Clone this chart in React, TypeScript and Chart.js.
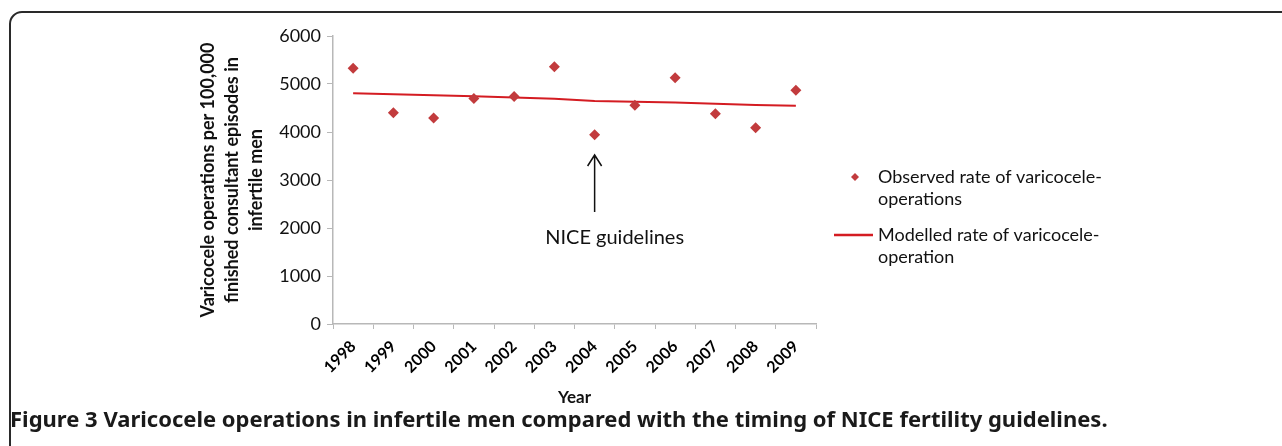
import React, { useEffect, useRef } from "react";
import { Chart, registerables } from "chart.js";

Chart.register(...registerables);

const years = ["1998", "1999", "2000", "2001", "2002", "2003", "2004", "2005", "2006", "2007", "2008", "2009"];
const observedRate = [5330, 4400, 4290, 4700, 4740, 5360, 3945, 4555, 5130, 4380, 4090, 4870];
const modelledRate = [4805, 4785, 4765, 4745, 4718, 4695, 4648, 4628, 4612, 4588, 4562, 4548];
const yTicks = [0, 1000, 2000, 3000, 4000, 5000, 6000];
const yTitleLines = ["Varicocele operations per 100,000", "finished consultant episodes in", "infertile men"];
const xTitle = "Year";
const legendObserved = ["Observed rate of varicocele-", "operations"];
const legendModelled = ["Modelled rate of varicocele-", "operation"];
const annotationYear = "2004";
const annotationText = "NICE guidelines";
const captionBold = "Figure 3";
const captionRest = " Varicocele operations in infertile men compared with the timing of NICE fertility guidelines.";

const POINT_COLOR = "#c23b3d";
const LINE_COLOR = "#d41c22";
const AXIS_COLOR = "#b8b8b8";
const FONT = "Lato, 'Open Sans', sans-serif";

const overlay = {
  id: "overlay",
  afterDraw(chart: any) {
    const ctx = chart.ctx as CanvasRenderingContext2D;
    const x = chart.scales.x;
    ctx.save();
    // frame
    ctx.strokeStyle = "#2a2a2a";
    ctx.lineWidth = 2;
    ctx.beginPath();
    const r = 12;
    ctx.moveTo(10, 446);
    ctx.lineTo(10, 12 + r);
    ctx.arcTo(10, 12, 10 + r, 12, r);
    ctx.lineTo(1282, 12);
    ctx.stroke();

    // y title
    ctx.fillStyle = "#111";
    ctx.font = `bold 18px ${FONT}`;
    ctx.textAlign = "center";
    ctx.textBaseline = "middle";
    const cy = 180;
    yTitleLines.forEach((line, i) => {
      ctx.save();
      ctx.translate(208 + i * 24, cy);
      ctx.rotate(-Math.PI / 2);
      ctx.fillText(line, 0, 0);
      ctx.restore();
    });

    // x title
    ctx.font = `bold 17px ${FONT}`;
    ctx.fillText(xTitle, (chart.chartArea.left + chart.chartArea.right) / 2, 398);

    // legend
    ctx.textAlign = "left";
    ctx.font = `18px ${FONT}`;
    ctx.fillStyle = "#111";
    ctx.fillText(legendObserved[0], 878, 177);
    ctx.fillText(legendObserved[1], 878, 199);
    ctx.fillText(legendModelled[0], 878, 235);
    ctx.fillText(legendModelled[1], 878, 257);
    ctx.fillStyle = POINT_COLOR;
    ctx.beginPath();
    ctx.moveTo(855, 173);
    ctx.lineTo(859, 177);
    ctx.lineTo(855, 181);
    ctx.lineTo(851, 177);
    ctx.closePath();
    ctx.fill();
    ctx.strokeStyle = LINE_COLOR;
    ctx.lineWidth = 2.5;
    ctx.beginPath();
    ctx.moveTo(834, 235);
    ctx.lineTo(873, 235);
    ctx.stroke();

    // annotation arrow
    const ax = x.getPixelForValue(years.indexOf(annotationYear));
    ctx.strokeStyle = "#111";
    ctx.lineWidth = 1.5;
    ctx.beginPath();
    ctx.moveTo(ax, 212);
    ctx.lineTo(ax, 155);
    ctx.moveTo(ax - 7, 166);
    ctx.lineTo(ax, 155);
    ctx.lineTo(ax + 7, 166);
    ctx.stroke();
    ctx.fillStyle = "#111";
    ctx.textAlign = "center";
    ctx.font = `20px ${FONT}`;
    ctx.fillText(annotationText, ax + 20, 238);

    // caption
    ctx.textAlign = "left";
    ctx.textBaseline = "alphabetic";
    ctx.font = `bold 22px 'Noto Sans', sans-serif`;
    ctx.fillStyle = "#1a1a1a";
    ctx.fillText(captionBold, 10, 427);
    const w = ctx.measureText(captionBold).width;
    ctx.fillText(captionRest, 10 + w, 427);
    ctx.restore();
  },
};

export default function App() {
  const ref = useRef<HTMLCanvasElement | null>(null);
  useEffect(() => {
    if (!ref.current) return;
    const chart = new Chart(ref.current, {
      type: "line",
      data: {
        labels: years,
        datasets: [
          {
            label: "Observed rate of varicocele operations",
            data: observedRate,
            showLine: false,
            pointStyle: "rectRot",
            pointRadius: 5.5,
            pointBackgroundColor: POINT_COLOR,
            pointBorderColor: POINT_COLOR,
            borderWidth: 0,
          },
          {
            label: "Modelled rate of varicocele operation",
            data: modelledRate,
            borderColor: LINE_COLOR,
            borderWidth: 2,
            pointRadius: 0,
            tension: 0,
            fill: false,
          },
        ],
      },
      options: {
        animation: false,
        responsive: false,
        maintainAspectRatio: false,
        layout: { padding: { left: 0, top: 36, right: 466, bottom: 0 } },
        plugins: { legend: { display: false }, tooltip: { enabled: false } },
        scales: {
          x: {
            type: "category",
            offset: true,
            grid: { offset: true, drawOnChartArea: false, drawTicks: true, tickLength: 5, color: AXIS_COLOR },
            border: { color: AXIS_COLOR, width: 1.5 },
            ticks: { color: "#000", font: { family: FONT, size: 16, weight: "bold" }, minRotation: 45, maxRotation: 45, padding: 8, autoSkip: false },
            afterFit: (s: any) => {
              s.height = 446 - 324;
            },
          },
          y: {
            min: 0,
            max: 6000,
            afterBuildTicks: (s: any) => {
              s.ticks = yTicks.map((v) => ({ value: v }));
            },
            grid: { drawOnChartArea: false, drawTicks: true, tickLength: 6, color: AXIS_COLOR },
            border: { color: AXIS_COLOR, width: 1.5 },
            ticks: { color: "#111", font: { family: FONT, size: 18 }, padding: 6, callback: (v: any) => String(v) },
            afterFit: (s: any) => {
              s.width = 333;
            },
          },
        },
      },
      plugins: [overlay],
    });
    return () => chart.destroy();
  }, []);
  return (
    <div style={{ position: "absolute", left: 0, top: 0, width: 1282, height: 446, background: "#fff" }}>
      <canvas ref={ref} width={1282} height={446} style={{ display: "block" }} />
    </div>
  );
}
